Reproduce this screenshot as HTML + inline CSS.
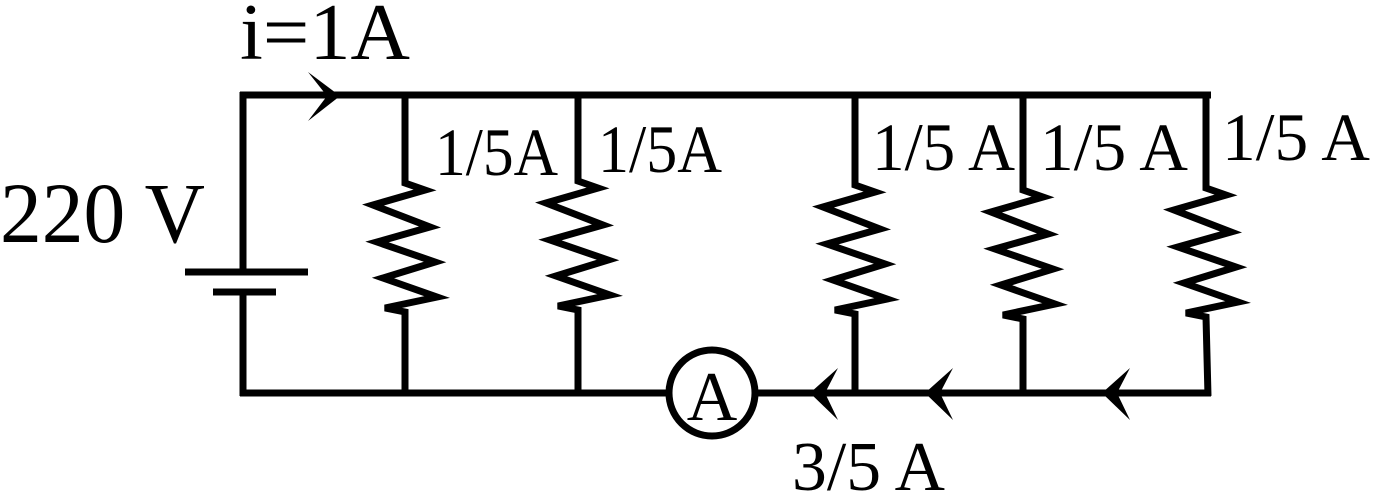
<!DOCTYPE html>
<html><head><style>
html,body{margin:0;padding:0;background:#fff;}
svg{display:block;}
text{font-family:"Liberation Serif",serif;fill:#000;}
</style></head><body>
<svg width="1376" height="493" viewBox="0 0 1376 493" xmlns="http://www.w3.org/2000/svg">
<g stroke="#000" stroke-width="7" fill="none" stroke-linejoin="miter">
<line x1="240" y1="95" x2="1211" y2="95"/>
<line x1="240" y1="393" x2="668" y2="393"/>
<line x1="756" y1="393" x2="1211" y2="393"/>
<line x1="243" y1="92" x2="243" y2="272"/>
<line x1="185" y1="272" x2="308" y2="272"/>
<line x1="213" y1="292" x2="276" y2="292"/>
<line x1="243" y1="292" x2="243" y2="396"/>
<circle cx="712" cy="393" r="43"/>
<polyline points="405,95 405,183 425,190 373,205 430,227 377,242 435,262 383,278 437,297 385,308 405,312 405,396"/>
<polyline points="578,95 578,181 598,188 546,203 603,225 550,240 608,260 556,276 610,295 558,306 578,310 578,396"/>
<polyline points="855,95 855,185 875,192 823,207 880,229 827,244 885,264 833,280 887,299 835,310 855,314 855,396"/>
<polyline points="1023,95 1023,190 1043,197 991,212 1048,234 995,249 1053,269 1001,285 1055,304 1003,315 1023,319 1023,396"/>
<polyline points="1206,92 1206,188 1226,195 1174,210 1231,232 1178,247 1236,267 1184,283 1238,302 1186,313 1206,317 1208,396"/>
</g>
<g fill="#000">
<path d="M340,96 L308,72 L327,96 L308,121 Z"/>
<path d="M810,393 L838,368 L825,393 L838,420 Z"/>
<path d="M925,393 L953,368 L940,393 L953,420 Z"/>
<path d="M1102,393 L1130,368 L1117,393 L1130,420 Z"/>
</g>
<text x="240" y="59" font-size="80" textLength="170" lengthAdjust="spacingAndGlyphs">i=1A</text>
<text x="0" y="242" font-size="86" textLength="205" lengthAdjust="spacingAndGlyphs">220 V</text>
<text x="435" y="175" font-size="68" textLength="123" lengthAdjust="spacingAndGlyphs">1/5A</text>
<text x="598" y="172" font-size="68" textLength="124" lengthAdjust="spacingAndGlyphs">1/5A</text>
<text x="872" y="170" font-size="68" textLength="143" lengthAdjust="spacingAndGlyphs">1/5 A</text>
<text x="1040" y="170" font-size="68" textLength="148" lengthAdjust="spacingAndGlyphs">1/5 A</text>
<text x="1222" y="160" font-size="68" textLength="148" lengthAdjust="spacingAndGlyphs">1/5 A</text>
<text x="712" y="420" font-size="70" text-anchor="middle">A</text>
<text x="792" y="490" font-size="70" textLength="153" lengthAdjust="spacingAndGlyphs">3/5 A</text>
</svg>
</body></html>
